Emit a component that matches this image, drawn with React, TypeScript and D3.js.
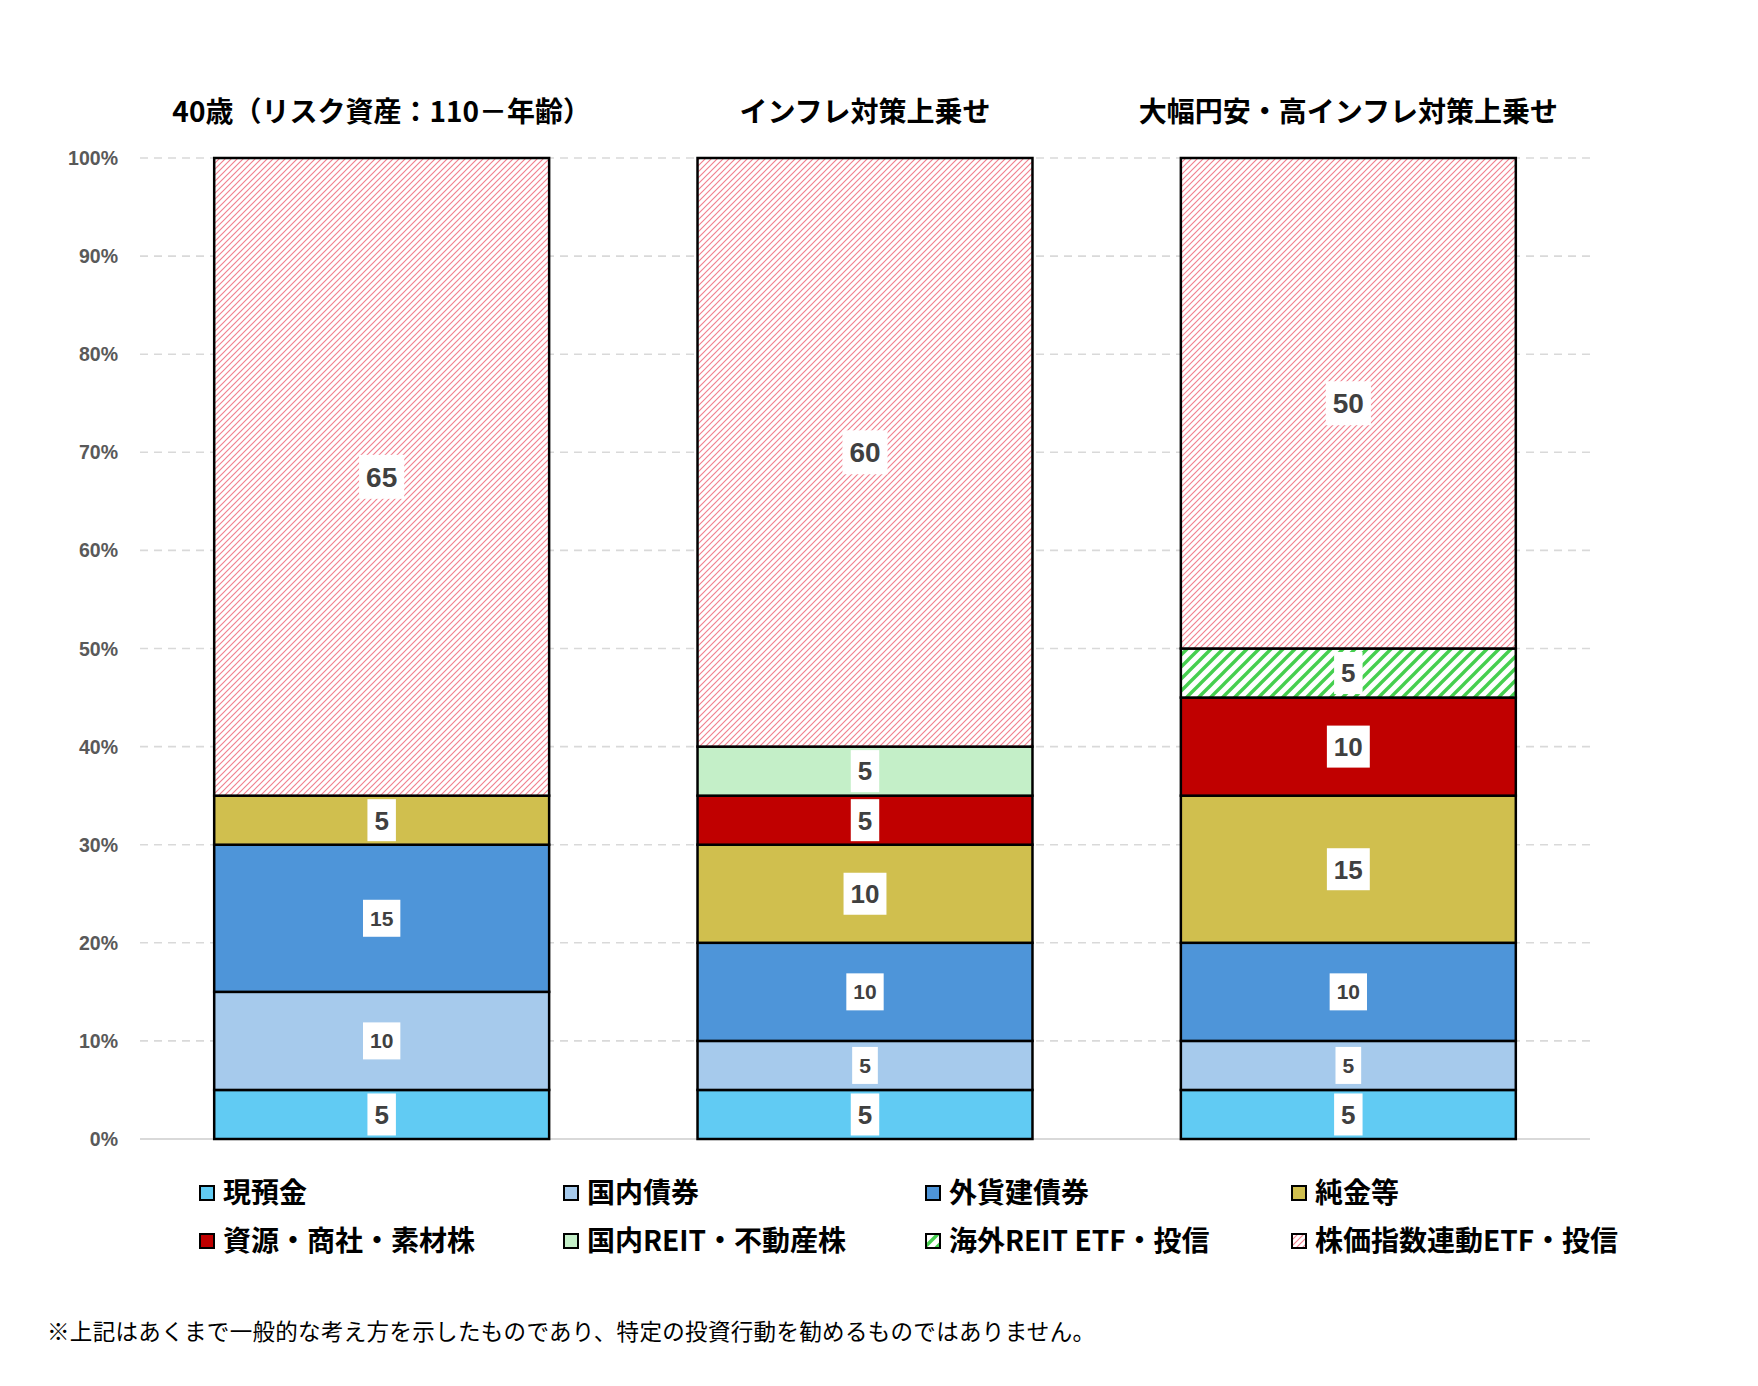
import * as d3 from "d3";

// columns (shown as titles above each bar)
const categories = [
  "40歳（リスク資産：110－年齢）",
  "インフレ対策上乗せ",
  "大幅円安・高インフレ対策上乗せ",
];

const seriesNames = [
  "現預金",
  "国内債券",
  "外貨建債券",
  "純金等",
  "資源・商社・素材株",
  "国内REIT・不動産株",
  "海外REIT ETF・投信",
  "株価指数連動ETF・投信",
];

// values per column (%), bottom to top
const cash = [5, 5, 5];
const domesticBonds = [10, 5, 5];
const foreignBonds = [15, 10, 10];
const gold = [5, 10, 15];
const resources = [0, 5, 10];
const domesticReit = [0, 5, 0];
const foreignReit = [0, 0, 5];
const indexFunds = [65, 60, 50];

const yTicks = [0, 10, 20, 30, 40, 50, 60, 70, 80, 90, 100];

const footnote =
  "※上記はあくまで一般的な考え方を示したものであり、特定の投資行動を勧めるものではありません。";

const seriesValues = [cash, domesticBonds, foreignBonds, gold, resources, domesticReit, foreignReit, indexFunds];

const fills = [
  "#61CBF3",
  "#A6CAEC",
  "#4E95D9",
  "#D0BF4E",
  "#C00000",
  "#C4EFC8",
  "url(#hatchGreen)",
  "url(#hatchRed)",
];
const labelSize = [26, 21, 21, 26, 26, 26, 26, 28];

const W = 1758;
const H = 1386;
const left = 140;
const right = 1590;
const top = 158;
const bottom = 1139;

const jpFont = "'Noto Sans CJK JP', 'Noto Sans', sans-serif";
const numFont = "'Liberation Sans', Arial, sans-serif";

export default function App() {
  const rows = categories.map((c, i) => {
    const r: Record<string, any> = { category: c };
    seriesNames.forEach((s, j) => (r[s] = seriesValues[j][i]));
    return r;
  });

  const stacked = d3.stack<any>().keys(seriesNames)(rows);

  const x = d3
    .scaleBand<string>()
    .domain(categories)
    .range([left, right])
    .paddingInner(0.307)
    .paddingOuter(0.1535);
  const y = d3.scaleLinear().domain([0, 100]).range([bottom, top]);

  const legendX = [200, 564, 926, 1292];
  const legendY = [1193, 1241];

  return (
    <svg
      width={W}
      height={H}
      style={{ position: "absolute", left: 0, top: 0, display: "block", background: "#fff" }}
    >
      <defs>
        <pattern id="hatchRed" patternUnits="userSpaceOnUse" width="6" height="6">
          <rect width="6" height="6" fill="#fff" />
          <path d="M-1,1 l2,-2 M0,6 l6,-6 M5,7 l2,-2" stroke="#f2808e" strokeWidth="1.15" />
        </pattern>
        <pattern id="hatchGreen" patternUnits="userSpaceOnUse" width="12" height="12">
          <rect width="12" height="12" fill="#fff" />
          <path d="M-3,3 l6,-6 M0,12 l12,-12 M9,15 l6,-6" stroke="#46cf4f" strokeWidth="3.4" />
        </pattern>
      </defs>
      <rect width={W} height={H} fill="#fff" />

      {/* grid + y axis */}
      {yTicks.map((t) => (
        <g key={t}>
          <line
            x1={left}
            x2={right}
            y1={y(t)}
            y2={y(t)}
            stroke="#d9d9d9"
            strokeWidth={t === 0 ? 2 : 1.6}
            strokeDasharray={t === 0 ? undefined : "8,6"}
          />
          <text
            x={118}
            y={y(t)}
            dy="0.36em"
            textAnchor="end"
            fontFamily={numFont}
            fontWeight="bold"
            fontSize={19.5}
            fill="#595959"
          >
            {t}%
          </text>
        </g>
      ))}

      {/* titles */}
      {categories.map((c) => (
        <text
          key={c}
          x={x(c)! + x.bandwidth() / 2}
          y={112}
          dy="0.36em"
          textAnchor="middle"
          fontFamily={jpFont}
          fontWeight="bold"
          fontSize={28}
          fill="#000"
        >
          {c}
        </text>
      ))}

      {/* bars */}
      {stacked.map((layer, si) =>
        layer.map((d, ci) => {
          if (d[1] - d[0] <= 0) return null;
          return (
            <rect
              key={`${si}-${ci}`}
              x={x(categories[ci])}
              y={y(d[1])}
              width={x.bandwidth()}
              height={y(d[0]) - y(d[1])}
              fill={fills[si]}
              stroke="#000"
              strokeWidth={2.5}
            />
          );
        })
      )}

      {/* data labels */}
      {stacked.map((layer, si) =>
        layer.map((d, ci) => {
          const v = d[1] - d[0];
          if (v <= 0) return null;
          const fs = labelSize[si];
          const txt = String(v);
          const bw = txt.length * 0.556 * fs + 14;
          const bh = fs + 16;
          const cx = x(categories[ci])! + x.bandwidth() / 2;
          const cy = y((d[0] + d[1]) / 2);
          return (
            <g key={`l-${si}-${ci}`}>
              <rect x={cx - bw / 2} y={cy - bh / 2} width={bw} height={bh} fill="#fff" />
              <text
                x={cx}
                y={cy}
                dy="0.36em"
                textAnchor="middle"
                fontFamily={numFont}
                fontWeight="bold"
                fontSize={fs}
                fill="#404040"
              >
                {txt}
              </text>
            </g>
          );
        })
      )}

      {/* legend */}
      {seriesNames.map((s, i) => {
        const lx = legendX[i % 4];
        const ly = legendY[Math.floor(i / 4)];
        return (
          <g key={s}>
            <rect x={lx} y={ly - 7} width={14} height={14} fill={fills[i]} stroke="#000" strokeWidth={2} />
            <text
              x={lx + 23}
              y={ly}
              dy="0.36em"
              fontFamily={jpFont}
              fontWeight="bold"
              fontSize={28}
              fill="#000"
            >
              {s}
            </text>
          </g>
        );
      })}

      <text
        x={47}
        y={1332}
        dy="0.36em"
        fontFamily={jpFont}
        fontSize={22.5}
        fill="#000"
        textLength={1048}
        lengthAdjust="spacing"
      >
        {footnote}
      </text>
    </svg>
  );
}
